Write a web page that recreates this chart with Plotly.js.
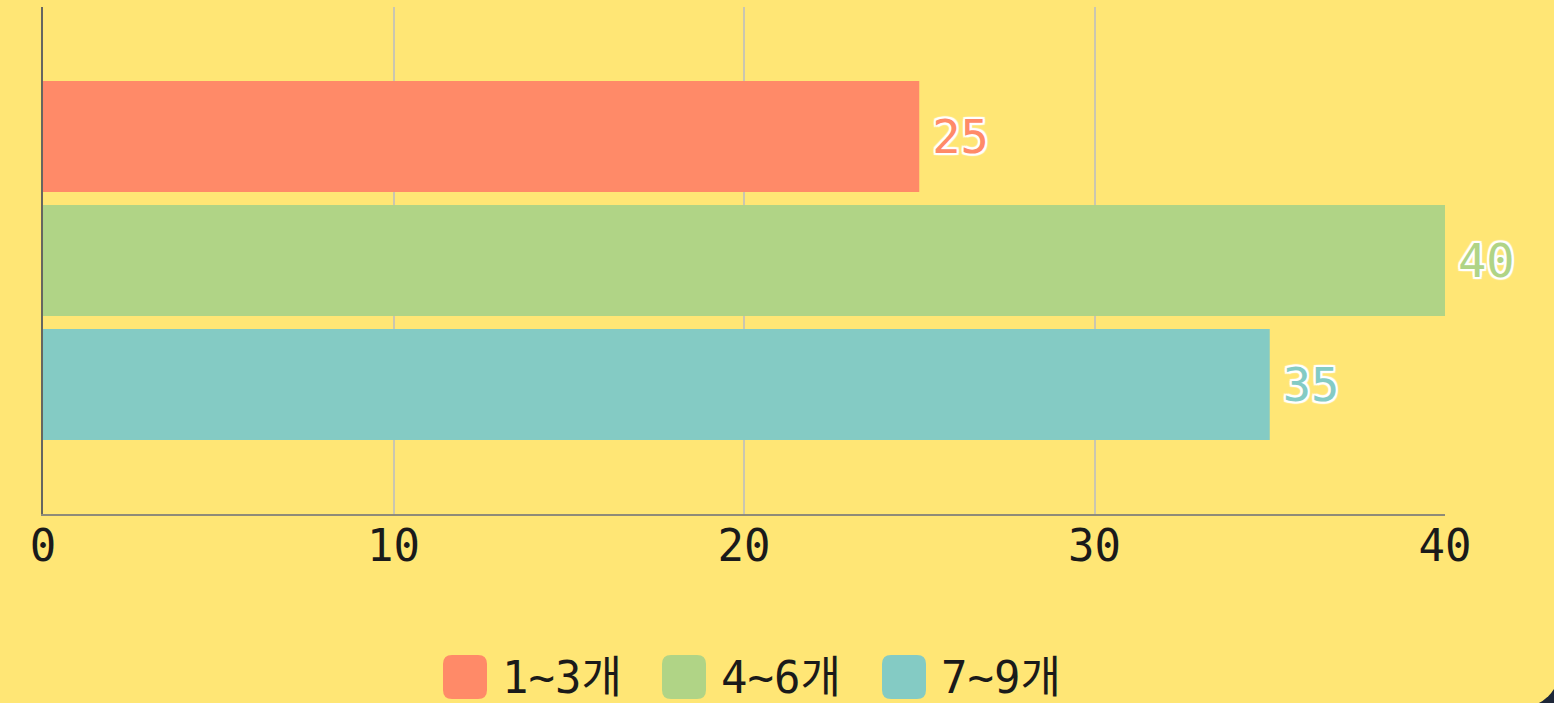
<!DOCTYPE html>
<html><head><meta charset="utf-8">
<script src="https://cdn.plot.ly/plotly-3.0.1.min.js"></script>
<style>
html,body{margin:0;padding:0;background:#1e2738;overflow:hidden;}
#card{width:1560px;height:708px;background:#FFE675;border-bottom-right-radius:40px;overflow:hidden;}
#chart{width:1554px;height:703px;}
</style></head>
<body><div id="card"><div id="chart"></div></div>
<script>
const seriesNames = ['1~3개', '4~6개', '7~9개'];
const seriesValues = [25, 40, 35];
const seriesColors = ['#FF8A68', '#B0D486', '#84CBC4'];
const category = [''];
const xTicks = [0, 10, 20, 30, 40];

const W = 1554, H = 703;
const M = {l: 43, r: 109, t: 7, b: 189};
const FONT = 'DejaVu Sans Mono, Noto Sans CJK KR, monospace';

const traces = seriesNames.map((n, i) => ({
  type: 'bar', orientation: 'h', name: n,
  y: category, x: [seriesValues[i]],
  marker: {color: seriesColors[i]},
  texttemplate: '<span style="font-family:Roboto;font-size:40px">\u00A0</span>%{x}', textposition: 'outside',
  textfont: {family: FONT, size: 47, color: seriesColors[i],
    shadow: '2px 0 1px #fff, -2px 0 1px #fff, 0 2px 1px #fff, 0 -2px 1px #fff, 2px 2px 1px #fff, -2px -2px 1px #fff, 2px -2px 1px #fff, -2px 2px 1px #fff'},
  cliponaxis: false, constraintext: 'none', hoverinfo: 'skip', showlegend: false
}));

// custom legend (pixel -> paper)
const pw = W - M.l - M.r, ph = H - M.t - M.b;
const px = p => (p - M.l) / pw;
const py = p => (H - M.b - p) / ph;
function roundRect(x0, y0, s, r) {
  const x1 = x0 + s, y1 = y0 + s;
  const P = (a, b) => px(a) + ',' + py(b);
  return 'M' + P(x0 + r, y0) + ' L' + P(x1 - r, y0) + ' Q' + P(x1, y0) + ' ' + P(x1, y0 + r) +
    ' L' + P(x1, y1 - r) + ' Q' + P(x1, y1) + ' ' + P(x1 - r, y1) +
    ' L' + P(x0 + r, y1) + ' Q' + P(x0, y1) + ' ' + P(x0, y1 - r) +
    ' L' + P(x0, y0 + r) + ' Q' + P(x0, y0) + ' ' + P(x0 + r, y0) + ' Z';
}
const legendX = [443, 662, 882];
const shapes = [], annotations = [];
seriesNames.forEach((n, i) => {
  shapes.push({type: 'path', xref: 'paper', yref: 'paper', path: roundRect(legendX[i], 655, 44, 9),
    fillcolor: seriesColors[i], line: {width: 0}});
  annotations.push({xref: 'paper', yref: 'paper', x: px(legendX[i] + 57), y: py(677),
    xanchor: 'left', yanchor: 'middle', text: n, showarrow: false,
    font: {family: FONT, size: 44, color: '#1a1a1a'}});
});

const layout = {
  width: W, height: H, margin: M,
  paper_bgcolor: 'rgba(0,0,0,0)', plot_bgcolor: 'rgba(0,0,0,0)',
  barmode: 'group', bargap: 0.266, bargroupgap: 0.105,
  showlegend: false,
  xaxis: {range: [0, 40], tickvals: xTicks, ticktext: xTicks.map(String), showgrid: true,
    gridcolor: '#cac6b0', gridwidth: 2, zeroline: false, showline: true, linecolor: '#8f8b78', linewidth: 2,
    ticks: '', ticklabelstandoff: -8, tickfont: {family: FONT, size: 44, color: '#1a1a1a'}, fixedrange: true},
  yaxis: {autorange: 'reversed', showticklabels: false, showgrid: false, zeroline: false,
    showline: true, linecolor: '#666660', linewidth: 2, ticks: '', fixedrange: true},
  shapes: shapes, annotations: annotations
};
Plotly.newPlot('chart', traces, layout, {displayModeBar: false, staticPlot: true});
</script></body></html>
